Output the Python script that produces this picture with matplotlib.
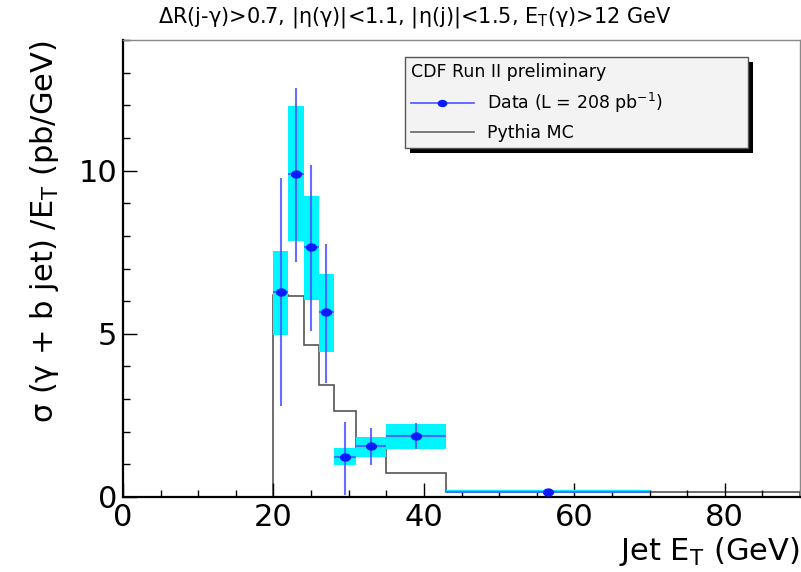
import numpy as np
import matplotlib.pyplot as plt
from matplotlib.lines import Line2D
from matplotlib.path import Path
from matplotlib.patches import Rectangle
from matplotlib.transforms import Affine2D, IdentityTransform, ScaledTranslation
from matplotlib.ticker import MultipleLocator

plt.rcParams['font.family'] = ['DejaVu Sans']
plt.rcParams['mathtext.fontset'] = 'dejavusans'

# data bins (GeV)
bin_lo = [20, 22, 24, 26, 28, 31, 35, 43]
bin_hi = [22, 24, 26, 28, 31, 35, 43, 70]
# cross section (pb/GeV) with stat errors
xsec = [6.27, 9.9, 7.65, 5.66, 1.22, 1.56, 1.87, 0.16]
stat_up = [9.76, 12.54, 10.18, 7.74, 2.3, 2.1, 2.26, 0.20]
stat_dn = [2.78, 7.2, 5.1, 3.5, 0.05, 0.98, 1.47, 0.12]
# systematic band
sys_up = [7.55, 11.97, 9.23, 6.82, 1.5, 1.84, 2.23, 0.20]
sys_dn = [4.95, 7.83, 6.05, 4.44, 0.98, 1.22, 1.47, 0.12]

# pythia histogram
mc_edges = [0, 20, 22, 24, 26, 28, 31, 35, 43, 70, 90]
mc_vals = [0, 6.2, 6.16, 4.65, 3.43, 2.63, 1.5, 0.72, 0.16, 0.15]

lo = np.array(bin_lo, float)
hi = np.array(bin_hi, float)
y = np.array(xsec)
xc = (lo + hi) / 2
xw = (hi - lo) / 2

# slightly flattened dot
dot = Path.unit_circle().transformed(Affine2D().scale(1.4, 1.0))

fig = plt.figure(figsize=(8.01, 5.72), dpi=100)
ax = fig.add_axes([123/801, 75/572, 677/801, 457/572])

ax.stairs(mc_vals, mc_edges, color='#555555', lw=1.2, zorder=1)
ax.bar(lo, np.array(sys_up) - np.array(sys_dn), bottom=sys_dn, width=hi - lo,
       align='edge', color='#00f6ff', lw=0, zorder=2)
ax.errorbar(xc, y, xerr=xw, yerr=[y - np.array(stat_dn), np.array(stat_up) - y],
            fmt='none', ecolor='#4a55ff', elinewidth=1.5, capsize=0, alpha=0.85, zorder=3)
ax.plot(xc, y, ls='none', marker=dot, color='#0a1cff', ms=7, zorder=4)

ax.set_xlim(0, 90)
ax.set_ylim(0, 14)
ax.xaxis.set_major_locator(MultipleLocator(20))
ax.xaxis.set_minor_locator(MultipleLocator(5))
ax.yaxis.set_major_locator(MultipleLocator(5))
ax.yaxis.set_minor_locator(MultipleLocator(1))
ax.tick_params(which='both', direction='in', top=False, right=False, labelsize=22, width=1)
ax.tick_params(which='major', length=10)
ax.tick_params(axis='x', which='major', pad=4)
ax.tick_params(axis='y', which='major', pad=4)
ax.tick_params(which='minor', length=5)
for s in ['left', 'bottom']:
    ax.spines[s].set_linewidth(1.6)
    ax.spines[s].set_color('black')
for s in ['top', 'right']:
    ax.spines[s].set_linewidth(1)
    ax.spines[s].set_color('#888888')

# lift the y "0" a little so it clears the x "0"
fig.canvas.draw()
ylab0 = ax.yaxis.get_majorticklabels()[0]
ylab0.set_transform(ylab0.get_transform() + ScaledTranslation(-3/72, 6/72, fig.dpi_scale_trans))

fig.text(415/801, 1 - 17/572,
         r'ΔR(j-γ)>0.7, |η(γ)|<1.1, |η(j)|<1.5, E$_{\mathrm{T}}$(γ)>12 GeV',
         ha='center', va='center', fontsize=15)
fig.text(45/801, 1 - 40/572, r'σ (γ + b jet) /E$_{\mathrm{T}}$ (pb/GeV)',
         rotation=90, ha='center', va='top', fontsize=22)
fig.text(800/801, 1 - 560/572, r'Jet E$_{\mathrm{T}}$ (GeV)',
         ha='right', va='baseline', fontsize=22)

handles = [Line2D([], [], color='#4a55ff', marker=dot, markerfacecolor='#0a1cff',
                  markeredgecolor='#0a1cff', ms=6, lw=1.2),
           Line2D([], [], color='#666666', lw=1.2)]
leg = ax.legend(handles, [r'Data (L = 208 pb$^{\mathrm{-1}}$)', 'Pythia MC'],
                title='CDF Run II preliminary', title_fontsize=12.5, fontsize=12.5,
                loc='upper left', bbox_to_anchor=(0.4165, 0.963, 0.507, 0.0), mode='expand',
                alignment='left', frameon=True, fancybox=False, facecolor='#f3f3f3',
                edgecolor='#555555', framealpha=1, handlelength=3.6, handletextpad=0.8,
                borderaxespad=0, labelspacing=0.55, borderpad=0.35)
leg.get_frame().set_linewidth(1)
leg.set_zorder(6)

# black drop shadow behind the legend box
fig.canvas.draw()
bb = leg.get_frame().get_window_extent()
ax.add_patch(Rectangle((bb.x0 + 5, bb.y0 - 5), bb.width, bb.height, transform=IdentityTransform(),
                       facecolor='black', edgecolor='none', clip_on=False, zorder=5.5))

fig.savefig('out.png', dpi=100)
